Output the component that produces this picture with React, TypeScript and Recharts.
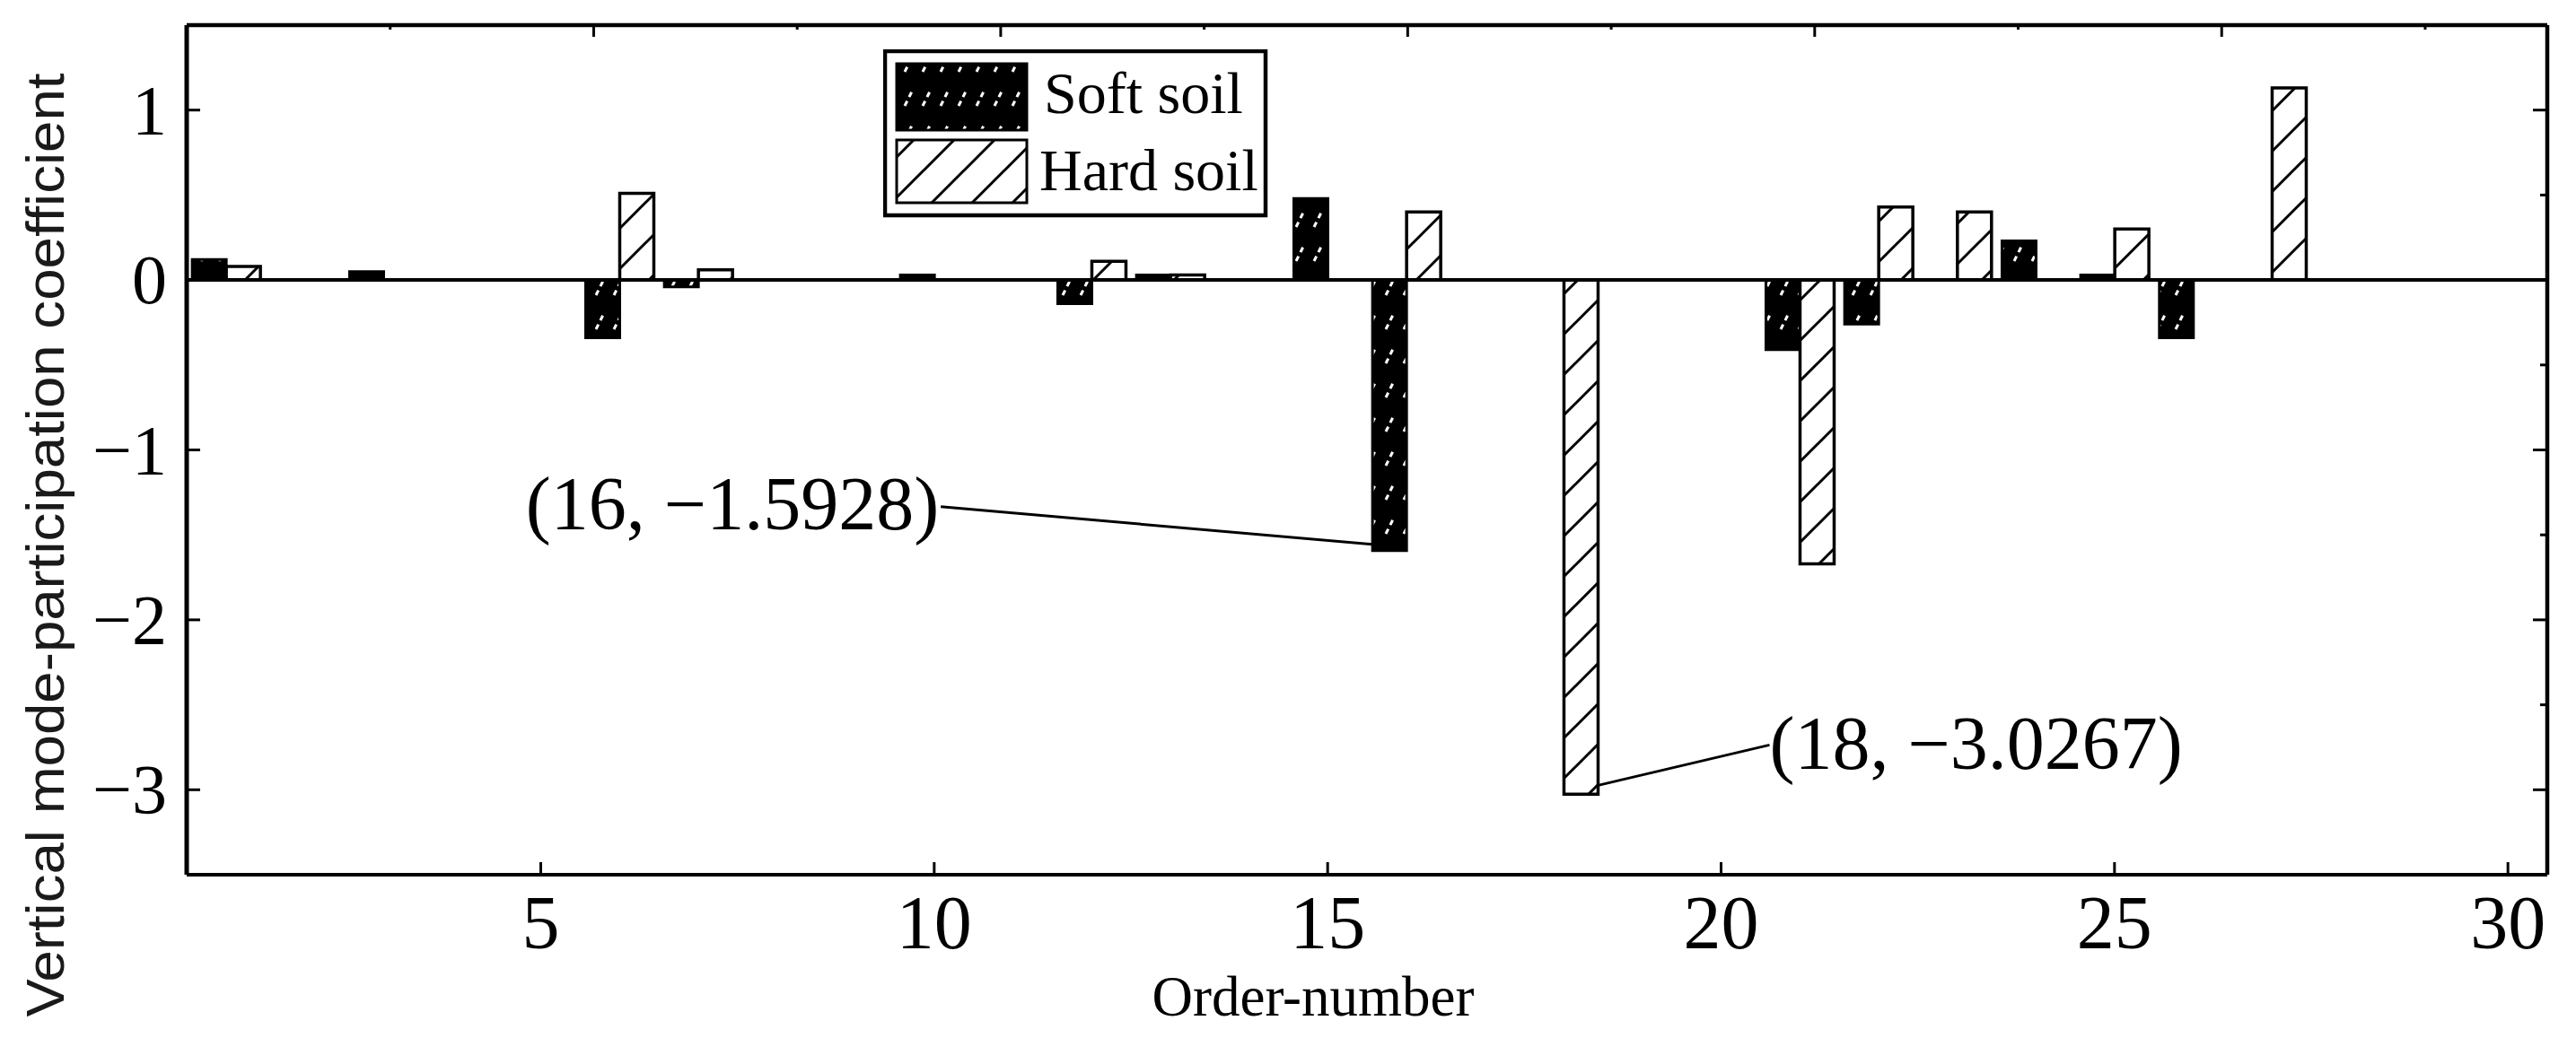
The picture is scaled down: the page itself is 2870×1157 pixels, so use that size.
import {
  BarChart, Bar, XAxis, YAxis, ReferenceLine, Legend, LabelList,
} from 'recharts';

const SERIF = '"Liberation Serif", "Times New Roman", serif';
const SANS = '"Liberation Sans", Arial, sans-serif';

// order-number of each mode
const ORDERS = [
  1, 2, 3, 4, 5, 6, 7, 8, 9, 10,
  11, 12, 13, 14, 15, 16, 17, 18, 19, 20,
  21, 22, 23, 24, 25, 26, 27, 28, 29, 30,
];

// vertical mode-participation coefficient, null = no bar
const SOFT_SOIL = [
  0.12, null, 0.05, null, null, -0.34, -0.04, null, null, 0.03,
  null, -0.14, 0.03, null, 0.48, -1.5928, null, null, null, null,
  -0.41, -0.26, null, 0.23, 0.03, -0.34, null, null, null, null,
];
const HARD_SOIL = [
  0.08, null, null, null, null, 0.51, 0.06, null, null, null,
  null, 0.11, 0.03, null, null, 0.40, null, -3.0267, null, null,
  -1.67, 0.43, 0.40, null, 0.30, null, 1.13, null, null, null,
];

const X_TICKS = [5, 10, 15, 20, 25, 30];
const X_FRAME_TICKS = [2.5, 5, 7.5, 10, 12.5, 15, 17.5, 20, 22.5, 25, 27.5, 30];
const Y_TICKS = [-3, -2, -1, 0, 1];
const Y_FRAME_TICKS = [-3, -2.5, -2, -1.5, -1, -0.5, 0, 0.5, 1];

const SERIES_ORDER = ['soft', 'hard'];

// labelled extremes
const SOFT_CALLOUT = { order: 16, text: '(16, \u22121.5928)' };
const HARD_CALLOUT = { order: 18, text: '(18, \u22123.0267)' };

const rows = ORDERS.map((order, i) => ({ order, soft: SOFT_SOIL[i], hard: HARD_SOIL[i] }));

const fmtY = (v: number) => (v < 0 ? `\u2212${Math.abs(v)}` : `${v}`);

// bar geometry -> left edge, right edge, end of bar (tip away from zero)
function barTip(p: any) {
  const vb = p.viewBox ?? p;
  const x = Number(vb.x ?? p.x), y = Number(vb.y ?? p.y);
  const w = Number(vb.width ?? p.width), h = Number(vb.height ?? p.height);
  const neg = Number(p.value) < 0;
  return {
    left: Math.min(x, x + w),
    right: Math.max(x, x + w),
    end: neg ? Math.max(y, y + h) : Math.min(y, y + h),
  };
}

function SoftCallout(p: any) {
  if (ORDERS[p.index] !== SOFT_CALLOUT.order && p.value !== -1.5928) return null;
  const { left, end } = barTip(p);
  return (
    <g>
      <line x1={left} y1={end - 7} x2={left - 481} y2={end - 49} stroke="#000" strokeWidth={3} />
      <text x={left - 483} y={end - 24} textAnchor="end" fontFamily={SERIF} fontSize={84} fill="#000">
        {SOFT_CALLOUT.text}
      </text>
    </g>
  );
}

function HardCallout(p: any) {
  if (ORDERS[p.index] !== HARD_CALLOUT.order && p.value !== -3.0267) return null;
  const { right, end } = barTip(p);
  return (
    <g>
      <line x1={right} y1={end - 10} x2={right + 191} y2={end - 55} stroke="#000" strokeWidth={3} />
      <text x={right + 191} y={end - 28} textAnchor="start" fontFamily={SERIF} fontSize={84} fill="#000">
        {HARD_CALLOUT.text}
      </text>
    </g>
  );
}

// ticks point into the plot, so each tick draws its own mark
function BottomTick({ x, y, payload }: any) {
  return (
    <g>
      <line x1={x} y1={y} x2={x} y2={y - 14} stroke="#000" strokeWidth={3} />
      <text x={x} y={y + 82} textAnchor="middle" fontFamily={SERIF} fontSize={84} fill="#000">
        {payload.value}
      </text>
    </g>
  );
}

function LeftTick({ x, y, payload }: any) {
  return (
    <g>
      <line x1={x} y1={y} x2={x + 15} y2={y} stroke="#000" strokeWidth={3} />
      <text x={x - 22} y={y + 26} textAnchor="end" fontFamily={SERIF} fontSize={78} fill="#000">
        {fmtY(payload.value)}
      </text>
    </g>
  );
}

function TopTick({ x, y, payload }: any) {
  const len = payload.value % 5 === 0 ? 13 : 5;
  return <line x1={x} y1={y} x2={x} y2={y + len} stroke="#000" strokeWidth={3} />;
}

function RightTick({ x, y, payload }: any) {
  const len = Number.isInteger(payload.value) ? 16 : 8;
  return <line x1={x} y1={y} x2={x - len} y2={y} stroke="#000" strokeWidth={3} />;
}

function XTitle({ viewBox }: any) {
  const { x, y, width } = viewBox;
  return (
    <text x={x + width / 2 - 60} y={y + 157} textAnchor="middle" fontFamily={SERIF} fontSize={63} fill="#000">
      Order-number
    </text>
  );
}

function YTitle({ viewBox }: any) {
  const { x, y, height } = viewBox;
  const cx = x - 8;
  const cy = y + height / 2 + 106;
  return (
    <text
      x={cx} y={cy}
      transform={`rotate(-90, ${cx}, ${cy})`}
      textAnchor="middle"
      dominantBaseline="central"
      fontFamily={SANS}
      fontSize={60}
      textLength={1052}
      lengthAdjust="spacingAndGlyphs"
      fill="#1a1a1a"
    >
      Vertical mode-participation coefficient
    </text>
  );
}

const SWATCH: Record<string, string> = { soft: 'url(#softHatch)', hard: 'url(#hardHatch)' };

function LegendBox({ payload }: any) {
  const items = [...(payload ?? [])].sort(
    (a: any, b: any) => SERIES_ORDER.indexOf(a.dataKey) - SERIES_ORDER.indexOf(b.dataKey),
  );
  return (
    <svg width={430} height={190} style={{ display: 'block' }}>
      <rect x={2} y={2} width={424} height={183} fill="#fff" stroke="#000" strokeWidth={4.5} />
      {items.map((it: any, i: number) => (
        <g key={i}>
          <rect
            x={15} y={i === 0 ? 16 : 101} width={145} height={i === 0 ? 74 : 70}
            fill={SWATCH[it.dataKey] ?? SWATCH[SERIES_ORDER[i]]}
            stroke="#000" strokeWidth={3}
          />
          <text x={i === 0 ? 179 : 174} y={i === 0 ? 71 : 157} fontFamily={SERIF} fontSize={66} fill="#000">
            {it.value}
          </text>
        </g>
      ))}
    </svg>
  );
}

export default function App() {
  return (
    <div style={{ position: 'fixed', left: 0, top: 0, width: 2870, height: 1157, background: '#fff' }}>
      <BarChart
        width={2870}
        height={1157}
        data={rows}
        margin={{ top: 27, right: 31, bottom: 82, left: 58 }}
        barGap={0}
        barCategoryGap="7%"
      >
        <defs>
          <pattern id="hardHatch" patternUnits="userSpaceOnUse" width={45} height={45}>
            <rect width={45} height={45} fill="#fff" />
            <path d="M0,45 L45,0 M-5,5 L5,-5 M40,50 L50,40" stroke="#000" strokeWidth={3} />
          </pattern>
          <pattern id="softHatch" patternUnits="userSpaceOnUse" width={20} height={38}>
            <rect width={20} height={38} fill="#000" />
            <path d="M4,25 L13,7" stroke="#fff" strokeWidth={3} strokeDasharray="6 5" />
          </pattern>
        </defs>

        <XAxis
          dataKey="order"
          type="category"
          ticks={X_TICKS}
          interval={0}
          height={100}
          axisLine={{ stroke: '#000', strokeWidth: 4 }}
          tickLine={false}
          tickSize={0}
          tickMargin={0}
          tick={<BottomTick />}
          label={<XTitle />}
        />
        {/* frame: top edge with major + minor ticks */}
        <XAxis
          xAxisId="top"
          orientation="top"
          type="number"
          domain={[0.5, 30.5]}
          allowDataOverflow
          ticks={X_FRAME_TICKS}
          interval={0}
          height={1}
          axisLine={{ stroke: '#000', strokeWidth: 4.5 }}
          tickLine={false}
          tickSize={0}
          tickMargin={0}
          tick={<TopTick />}
        />

        <YAxis
          type="number"
          domain={[-3.5, 1.5]}
          allowDataOverflow
          ticks={Y_TICKS}
          interval={0}
          width={150}
          axisLine={{ stroke: '#000', strokeWidth: 5 }}
          tickLine={false}
          tickSize={0}
          tickMargin={0}
          tick={<LeftTick />}
          label={<YTitle />}
        />
        {/* frame: right edge */}
        <YAxis
          yAxisId="right"
          orientation="right"
          type="number"
          domain={[-3.5, 1.5]}
          allowDataOverflow
          ticks={Y_FRAME_TICKS}
          interval={0}
          width={1}
          axisLine={{ stroke: '#000', strokeWidth: 4.5 }}
          tickLine={false}
          tickSize={0}
          tickMargin={0}
          tick={<RightTick />}
        />

        <Legend
          layout="vertical"
          align="center"
          verticalAlign="middle"
          wrapperStyle={{ left: 984, top: 55, width: 430, height: 190 }}
          content={<LegendBox />}
        />

        <Bar dataKey="soft" name="Soft soil" fill="url(#softHatch)" stroke="#000" strokeWidth={3} isAnimationActive={false}>
          <LabelList dataKey="soft" content={(p: any) => <SoftCallout {...p} />} />
        </Bar>
        <Bar dataKey="hard" name="Hard soil" fill="url(#hardHatch)" stroke="#000" strokeWidth={3.5} isAnimationActive={false}>
          <LabelList dataKey="hard" content={(p: any) => <HardCallout {...p} />} />
        </Bar>

        <ReferenceLine y={0} stroke="#000" strokeWidth={4} />
      </BarChart>
    </div>
  );
}
